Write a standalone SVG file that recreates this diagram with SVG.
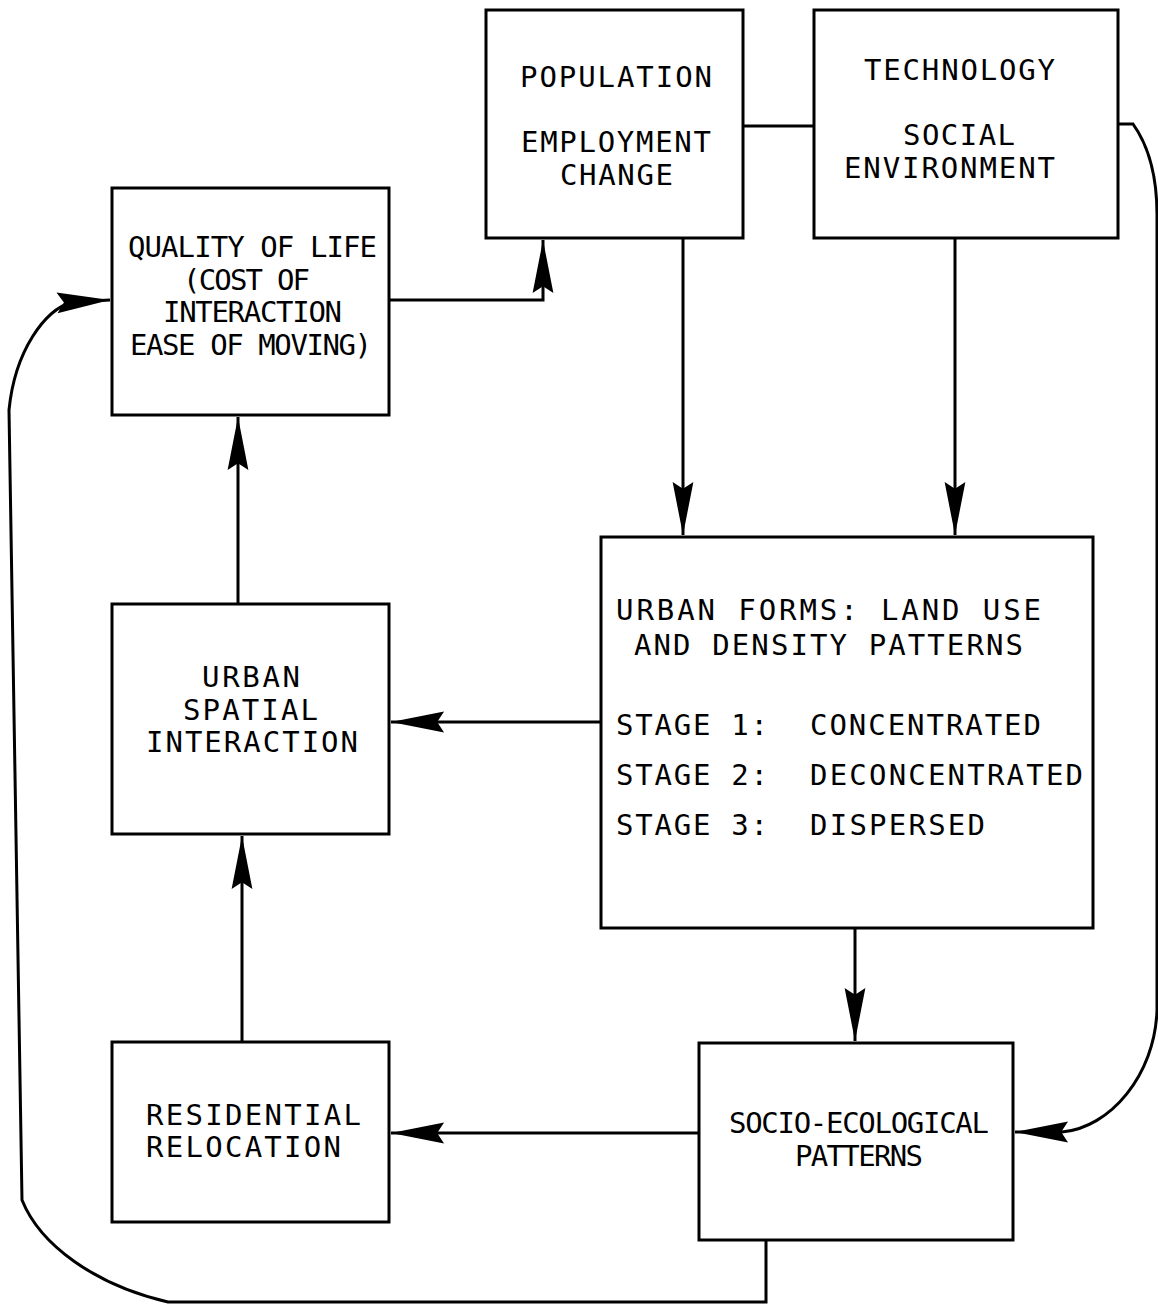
<svg xmlns="http://www.w3.org/2000/svg" width="1158" height="1305" viewBox="0 0 1158 1305">
<style>
.box{fill:#fff;stroke:#000;stroke-width:3}
.t{font-family:"DejaVu Sans Mono","Liberation Mono",monospace;font-size:29px;fill:#000}
.c{fill:none;stroke:#000;stroke-width:3}
</style>
<defs>
<marker id="ah" markerUnits="userSpaceOnUse" markerWidth="60" markerHeight="30" viewBox="-50 -12 52 24" refX="0" refY="0" orient="auto">
<path d="M0,0 L-46,-9 L-40,0 L-46,9 Z" fill="#000"/>
</marker>
</defs>
<rect width="1158" height="1305" fill="#fff"/>
<g id="connectors">
<path class="c" d="M743,126 H814"/>
<path class="c" d="M389,300 H543 V240" marker-end="url(#ah)"/>
<path class="c" d="M683,238 V535" marker-end="url(#ah)"/>
<path class="c" d="M955,238 V535" marker-end="url(#ah)"/>
<path class="c" d="M601,722 H391" marker-end="url(#ah)"/>
<path class="c" d="M238,604 V417" marker-end="url(#ah)"/>
<path class="c" d="M242,1042 V836" marker-end="url(#ah)"/>
<path class="c" d="M855,928 V1041" marker-end="url(#ah)"/>
<path class="c" d="M699,1133 H391" marker-end="url(#ah)"/>
<path class="c" d="M1118,124 H1133 C1148,145 1157,175 1157,215 V1010 C1155,1075 1110,1128 1062,1132 H1015" marker-end="url(#ah)"/>
<path class="c" d="M766,1240 V1302 H168 C95,1285 40,1245 22,1200 L9,410 C15,350 45,310 72,302 L110,300" marker-end="url(#ah)"/>
</g>
<g id="node-population">
<rect class="box" x="486" y="10" width="257" height="228"/>
<text class="t" x="520" y="87" textLength="192" lengthAdjust="spacing">POPULATION</text>
<text class="t" x="521" y="152" textLength="190" lengthAdjust="spacing">EMPLOYMENT</text>
<text class="t" x="560" y="185" textLength="113" lengthAdjust="spacing">CHANGE</text>
</g>
<g id="node-technology">
<rect class="box" x="814" y="10" width="304" height="228"/>
<text class="t" x="864" y="80" textLength="191" lengthAdjust="spacing">TECHNOLOGY</text>
<text class="t" x="903" y="145" textLength="112" lengthAdjust="spacing">SOCIAL</text>
<text class="t" x="844" y="178" textLength="211" lengthAdjust="spacing">ENVIRONMENT</text>
</g>
<g id="node-quality">
<rect class="box" x="112" y="188" width="277" height="227"/>
<text class="t" x="128" y="257" textLength="249" lengthAdjust="spacing">QUALITY OF LIFE</text>
<text class="t" x="183" y="290" textLength="127" lengthAdjust="spacing">(COST OF</text>
<text class="t" x="163" y="322" textLength="179" lengthAdjust="spacing">INTERACTION</text>
<text class="t" x="130" y="355" textLength="242" lengthAdjust="spacing">EASE OF MOVING)</text>
</g>
<g id="node-urban-forms">
<rect class="box" x="601" y="537" width="492" height="391"/>
<text class="t" x="616" y="620" textLength="425" lengthAdjust="spacing">URBAN FORMS:  LAND USE</text>
<text class="t" x="634" y="655" textLength="389" lengthAdjust="spacing">AND DENSITY PATTERNS</text>
<text class="t" x="616" y="735" textLength="152" lengthAdjust="spacing">STAGE 1:</text>
<text class="t" x="810" y="735" textLength="231" lengthAdjust="spacing">CONCENTRATED</text>
<text class="t" x="616" y="785" textLength="152" lengthAdjust="spacing">STAGE 2:</text>
<text class="t" x="810" y="785" textLength="273" lengthAdjust="spacing">DECONCENTRATED</text>
<text class="t" x="616" y="835" textLength="152" lengthAdjust="spacing">STAGE 3:</text>
<text class="t" x="810" y="835" textLength="175" lengthAdjust="spacing">DISPERSED</text>
</g>
<g id="node-spatial">
<rect class="box" x="112" y="604" width="277" height="230"/>
<text class="t" x="202" y="687" textLength="98" lengthAdjust="spacing">URBAN</text>
<text class="t" x="183" y="720" textLength="135" lengthAdjust="spacing">SPATIAL</text>
<text class="t" x="146" y="752" textLength="212" lengthAdjust="spacing">INTERACTION</text>
</g>
<g id="node-residential">
<rect class="box" x="112" y="1042" width="277" height="180"/>
<text class="t" x="146" y="1125" textLength="215" lengthAdjust="spacing">RESIDENTIAL</text>
<text class="t" x="146" y="1157" textLength="195" lengthAdjust="spacing">RELOCATION</text>
</g>
<g id="node-socio">
<rect class="box" x="699" y="1043" width="314" height="197"/>
<text class="t" x="729" y="1133" textLength="260" lengthAdjust="spacing">SOCIO-ECOLOGICAL</text>
<text class="t" x="795" y="1166" textLength="128" lengthAdjust="spacing">PATTERNS</text>
</g>
</svg>
